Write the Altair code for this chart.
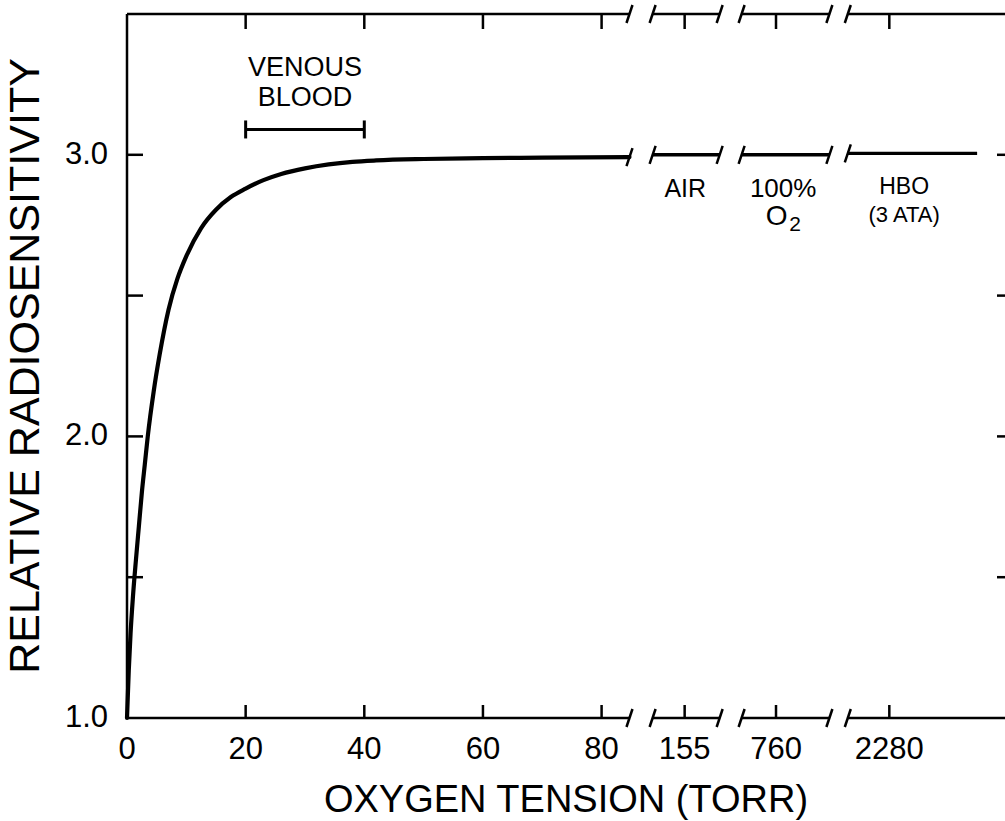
import altair as alt
import pandas as pd

# Relative radiosensitivity against oxygen tension (torr), low-tension part
tension = [0, 0.3, 0.6, 1.0, 1.5, 2.0, 2.5, 3.0, 3.5, 4.5, 5.5, 7.0, 8.5, 10.0,
           12.5, 15.0, 17.5, 20.0, 23.0, 26.0, 30.0, 34.0, 38.0, 42.0, 50.0,
           60.0, 70.0, 84.7]
sensitivity = [1.0, 1.17, 1.30, 1.43, 1.56, 1.68, 1.80, 1.90, 2.00, 2.16, 2.29,
               2.45, 2.56, 2.64, 2.74, 2.805, 2.85, 2.88, 2.91, 2.932, 2.952,
               2.966, 2.975, 2.98, 2.985, 2.988, 2.99, 2.992]

# Pieces of the broken x axis, in axis-position units (0-85 equals torr)
piece_start = [0, 88.6, 103.6, 121.5]
piece_end = [84.7, 99.9, 118.4, 148.0]

# Flat curve pieces after the breaks (air, 100% O2, HBO at 3 ATA)
flat_start = [88.6, 103.6, 121.5]
flat_end = [99.9, 118.4, 143.3]
flat_value = [3.0, 3.0, 3.005]

# Tick positions and labels
xtick_pos = [0, 20, 40, 60, 80, 94.0, 109.4, 128.5]
xtick_label = ["0", "20", "40", "60", "80", "155", "760", "2280"]
ytick_pos = [1.5, 2.0, 2.5, 3.0]
ylabel_pos = [1.0, 2.0, 3.0]
ylabel_text = ["1.0", "2.0", "3.0"]

x_title = "OXYGEN TENSION (TORR)"
y_title = "RELATIVE RADIOSENSITIVITY"

# Venous blood range (torr)
venous_lo, venous_hi = 20, 40

X_MAX = 148.0
Y_MIN, Y_MAX = 1.0, 3.5
W, H = 878, 704
PX = W / X_MAX  # pixels per x unit
FONT = "Liberation Sans"

xs = alt.Scale(domain=[0, X_MAX], nice=False, zero=False)
ys = alt.Scale(domain=[Y_MIN, Y_MAX], nice=False, zero=False)


def xq(field):
    return alt.X(field, type="quantitative", scale=xs, axis=None)


def yq(field):
    return alt.Y(field, type="quantitative", scale=ys, axis=None)


curve_df = pd.DataFrame({"t": tension, "r": sensitivity})
curve = alt.Chart(curve_df).mark_line(
    color="black", strokeWidth=4.2, strokeCap="round", interpolate="monotone"
).encode(x=xq("t"), y=yq("r"))

flat_df = pd.DataFrame({"s": flat_start, "e": flat_end, "v": flat_value})
flat = alt.Chart(flat_df).mark_rule(color="black", strokeWidth=3.4).encode(
    x=xq("s"), x2="e:Q", y=yq("v"),
)

# Left frame line (unbroken)
left_df = pd.DataFrame({"lx": [0.0], "ly0": [Y_MIN], "ly1": [Y_MAX]})
left_line = alt.Chart(left_df).mark_rule(color="black", strokeWidth=2.5).encode(
    x=xq("lx"), y=yq("ly0"), y2="ly1:Q",
)

# Bottom and top frame lines, broken like the axis
frame_rows = []
for lvl in (Y_MIN, Y_MAX):
    for s, e in zip(piece_start, piece_end):
        frame_rows.append({"s": s, "e": e, "lvl": lvl})
frame_df = pd.DataFrame(frame_rows)
frame = alt.Chart(frame_df).mark_rule(color="black", strokeWidth=2.5).encode(
    x=xq("s"), x2="e:Q", y=yq("lvl"),
)

# Break slashes on the frame lines and on the curve
slash_rows = []
for p in piece_end[:-1] + piece_start[1:]:
    slash_rows.append({"p": p, "lvl": Y_MIN})
    slash_rows.append({"p": p, "lvl": Y_MAX})
slash_rows.append({"p": tension[-1], "lvl": sensitivity[-1]})
for s, e, v in zip(flat_start, flat_end, flat_value):
    slash_rows.append({"p": s, "lvl": v})
    if e < piece_end[-1] - 5:
        slash_rows.append({"p": e, "lvl": v})
slash_df = pd.DataFrame(slash_rows)
slashes = alt.Chart(slash_df).mark_rule(
    color="black", strokeWidth=2.5, xOffset=-3, x2Offset=3,
    yOffset=9, y2Offset=-9
).encode(x=xq("p"), x2="p:Q", y=yq("lvl"), y2="lvl:Q")

# Inward tick marks on the bottom (dir -1) and top (dir +1) frame lines
n_in = len(xtick_pos) - 1
frame_tick_df = pd.DataFrame({
    "fp": xtick_pos[1:] * 2,
    "fl": [Y_MIN] * n_in + [Y_MAX] * n_in,
    "dir": [-1] * n_in + [1] * n_in,
})
bottom_ticks = alt.Chart(frame_tick_df).transform_filter(
    "datum.dir < 0"
).mark_rule(
    color="black", strokeWidth=2.5, yOffset=0, y2Offset=-13,
    xOffset=0, x2Offset=0
).encode(x=xq("fp"), x2="fp:Q", y=yq("fl"), y2="fl:Q")
top_ticks = alt.Chart(frame_tick_df).transform_filter(
    "datum.dir > 0"
).mark_rule(
    color="black", strokeWidth=2.5, yOffset=0, y2Offset=15,
    xOffset=0, x2Offset=0
).encode(x=xq("fp"), x2="fp:Q", y=yq("fl"), y2="fl:Q")

# Inward tick marks on the left and right sides
lt_df = pd.DataFrame({"lv": ytick_pos, "lx": [0.0] * len(ytick_pos)})
left_ticks = alt.Chart(lt_df).mark_rule(
    color="black", strokeWidth=2.5, x2Offset=16
).encode(x=xq("lx"), x2="lx:Q", y=yq("lv"), y2="lv:Q")

rt_df = pd.DataFrame({"rv": ytick_pos, "rx": [X_MAX] * len(ytick_pos)})
right_ticks = alt.Chart(rt_df).mark_rule(
    color="black", strokeWidth=2.5, x2Offset=-8
).encode(x=xq("rx"), x2="rx:Q", y=yq("rv"), y2="rv:Q")

# Tick labels
xlab_df = pd.DataFrame({"xp": xtick_pos, "xl": [Y_MIN] * len(xtick_pos),
                        "xt": xtick_label})
x_labels = alt.Chart(xlab_df).mark_text(
    font=FONT, fontSize=31, color="black", align="center", baseline="top", dy=17
).encode(x=xq("xp"), y=yq("xl"), text="xt:N")

ylab_df = pd.DataFrame({"yp": ylabel_pos, "yx": [0.0] * len(ylabel_pos),
                        "yt": ylabel_text})
y_labels = alt.Chart(ylab_df).mark_text(
    font=FONT, fontSize=31, color="black", align="right", baseline="middle", dx=-19
).encode(x=xq("yx"), y=yq("yp"), text="yt:N")

# Axis titles
xt_df = pd.DataFrame({"tx": [X_MAX / 2], "ty": [Y_MIN], "tt": [x_title]})
x_title_mark = alt.Chart(xt_df).mark_text(
    font=FONT, fontSize=38, color="black", align="center", baseline="middle", dy=83
).encode(x=xq("tx"), y=yq("ty"), text="tt:N")

yt_df = pd.DataFrame({"ux": [-101 / PX], "uy": [(Y_MIN + Y_MAX) / 2],
                      "ut": [y_title]})
y_title_mark = alt.Chart(yt_df).mark_text(
    font=FONT, fontSize=43, color="black", align="center", baseline="middle",
    angle=270
).encode(x=xq("ux"), y=yq("uy"), text="ut:N")

# Venous blood range bar with end caps
venous_df = pd.DataFrame({"lo": [venous_lo], "hi": [venous_hi], "v": [3.09]})
venous_bar = alt.Chart(venous_df).mark_rule(color="black", strokeWidth=3).encode(
    x=xq("lo"), x2="hi:Q", y=yq("v"),
)
cap_df = pd.DataFrame({"cp": [venous_lo, venous_hi], "cv": [3.09, 3.09]})
venous_caps = alt.Chart(cap_df).mark_rule(
    color="black", strokeWidth=3, yOffset=-9, y2Offset=9
).encode(x=xq("cp"), x2="cp:Q", y=yq("cv"), y2="cv:Q")

# Text annotations
notes = pd.DataFrame({
    "x": [30, 30, 94.1, 110.6, 131.0, 131.0],
    "y": [3.31, 3.20, 2.88, 2.88, 2.885, 2.785],
    "txt": ["VENOUS", "BLOOD", "AIR", "100%", "HBO", "(3 ATA)"],
    "size": [27, 27, 25, 26, 23, 22],
})
note_text = alt.Chart(notes).mark_text(
    font=FONT, color="black", align="center", baseline="middle"
).encode(
    x=xq("x"), y=yq("y"), text="txt:N",
    size=alt.Size("size:Q", scale=None, legend=None),
)

o2 = pd.DataFrame({
    "ox": [109.5, 112.6],
    "oy": [2.78, 2.75],
    "otxt": ["O", "2"],
    "osize": [28, 21],
})
o2_text = alt.Chart(o2).mark_text(
    font=FONT, color="black", align="center", baseline="middle"
).encode(
    x=xq("ox"), y=yq("oy"), text="otxt:N",
    size=alt.Size("osize:Q", scale=None, legend=None),
)

chart = alt.layer(
    curve, left_line, frame, slashes, left_ticks, right_ticks, flat,
    venous_bar, venous_caps, note_text, o2_text,
    x_labels, y_labels, x_title_mark, y_title_mark,
    bottom_ticks, top_ticks,
).properties(
    width=W, height=H,
    padding={"left": 127, "top": 14, "right": 0, "bottom": 103},
    autosize=alt.AutoSizeParams(type="none"),
    background="white",
).configure_view(stroke=None)

chart.save("out.html", embed_options={"renderer": "svg", "actions": False})
